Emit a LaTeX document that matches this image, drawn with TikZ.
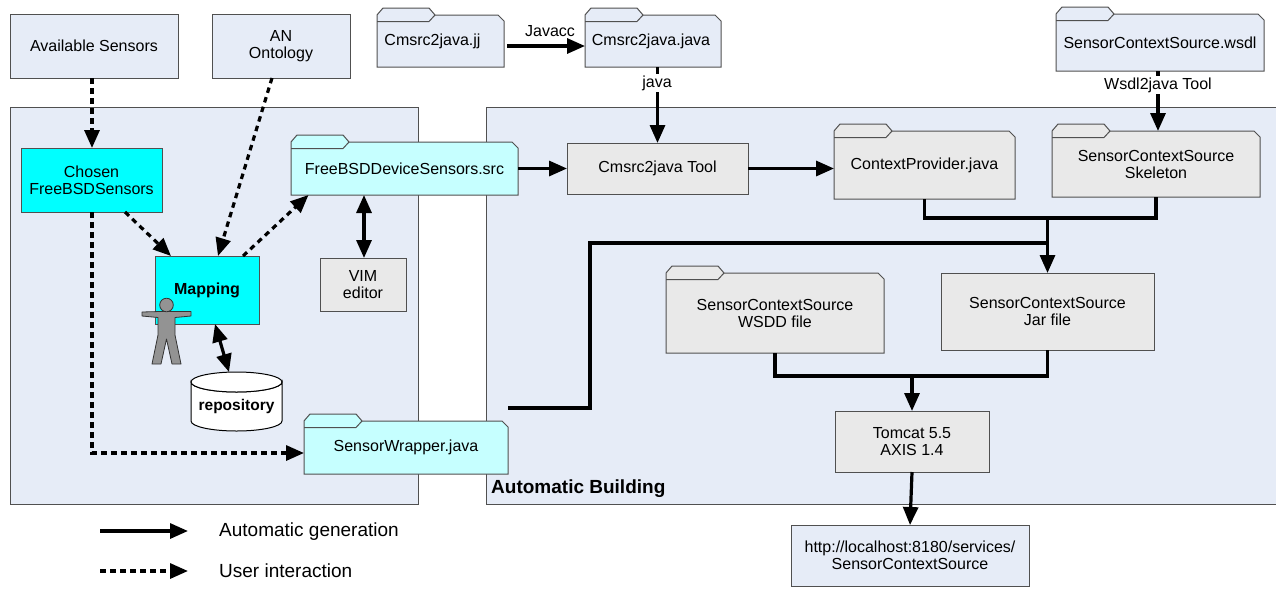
\documentclass[tikz,border=0pt]{standalone}
\usepackage{fontspec}
\setmainfont{Liberation Sans}
\usetikzlibrary{arrows.meta}
\definecolor{panel}{HTML}{E6ECF7}
\definecolor{brightcyan}{HTML}{00FFFF}
\definecolor{lcyan}{HTML}{C6FFFF}
\definecolor{lgray}{HTML}{E9E9E9}
\definecolor{edge}{HTML}{505050}
\tikzset{
  outline/.style={draw=edge,line width=1pt,line join=miter},
  boxn/.style={outline,rectangle,inner sep=0pt,outer sep=0pt,align=center,font=\fontsize{16}{17}\selectfont},
  foldertext/.style={rectangle,inner sep=0pt,outer sep=0pt,align=center,font=\fontsize{16}{17}\selectfont},
  solidarrow/.style={line width=3.2pt,-{Triangle[length=18pt,width=15pt]}},
  solidline/.style={line width=3.2pt,line join=miter},
  bothways/.style={line width=3.2pt,{Triangle[length=18pt,width=15pt]}-{Triangle[length=18pt,width=15pt]}},
  dashedarrow/.style={line width=3.2pt,dash pattern=on 5.5pt off 4.5pt,-{Triangle[length=18pt,width=15pt]}},
  edgelabel/.style={font=\fontsize{16}{17}\selectfont,inner sep=1.5pt},
  legendtext/.style={anchor=west,inner sep=0pt,font=\fontsize{19}{20}\selectfont}
}
\newcommand{\rectnode}[6]{% name x1 y1 x2 y2 style+text in #6
  \node[boxn,minimum width={(#4-#2)*1pt},minimum height={(#5-#3)*1pt}] (#1) at ({(#2+#4)/2},{(#3+#5)/2}) #6;}
\newcommand{\folder}[7]{% name x1 y1(body top) x2 y2 fill text
  \draw[outline,fill=#6] (#2,{#3+6}) -- (#2,#3) -- ({#2+6},{#3-7}) -- ({#2+52},{#3-7}) -- ({#2+58},#3)
     -- ({#4-6},#3) -- (#4,{#3+6}) -- (#4,#5) -- (#2,#5) -- cycle;
  \draw[outline] (#2,{#3+6.5}) -- ({#2+52},{#3+6.5}) -- ({#2+58},#3);
  \node[foldertext,minimum width={(#4-#2)*1pt},minimum height={(#5-#3)*1pt}] (#1) at ({(#2+#4)/2},{(#3+#5)/2}) {#7};}
\begin{document}
\begin{tikzpicture}[x=1pt,y=-1pt]
\useasboundingbox (0,0) rectangle (1276,590);
% panels
\fill[panel,draw=edge,line width=1pt] (10,107) rectangle (418,504);
\fill[panel] (486,107) rectangle (1276,504);
\draw[edge,line width=1pt] (1276,107) -- (486,107) -- (486,504) -- (1276,504);
\node[anchor=west,inner sep=0pt,font=\fontsize{19}{20}\selectfont\bfseries] (autob) at (491,489) {Automatic Building};
% boxes
\rectnode{avail}{10}{14}{178}{78}{[fill=panel] {Available Sensors}}
\rectnode{onto}{212}{14}{350}{78}{[fill=panel] {AN\\Ontology}}
\rectnode{chosen}{21}{148}{162}{212}{[fill=brightcyan] {Chosen\\FreeBSDSensors}}
\rectnode{map}{155}{256}{259}{324}{[fill=brightcyan] {\bfseries Mapping}}
\rectnode{vim}{320}{258}{406}{311}{[fill=lgray] {VIM\\editor}}
\rectnode{tool}{567}{143}{748}{194}{[fill=lgray] {Cmsrc2java Tool}}
\rectnode{jar}{941}{273}{1154}{350}{[fill=lgray] {SensorContextSource\\Jar file}}
\rectnode{tomcat}{835}{411}{989}{472}{[fill=lgray] {Tomcat 5.5\\AXIS 1.4}}
\rectnode{url}{791}{525}{1029}{586}{[fill=panel] {http://localhost:8180/services/\\SensorContextSource}}
% folders
\folder{jj}{377}{15}{504}{67}{panel}{\mbox{Cmsrc2java.jj\hspace{16pt}}}
\folder{cj}{585}{15}{721}{67}{panel}{\mbox{Cmsrc2java.java\hspace{4pt}}}
\folder{wsdl}{1056}{14}{1264}{71}{panel}{SensorContextSource.wsdl}
\folder{src}{291}{142}{518}{195}{lcyan}{FreeBSDDeviceSensors.src}
\folder{ctx}{834}{131}{1015}{199}{lgray}{ContextProvider.java}
\folder{skel}{1052}{131}{1260}{197}{lgray}{SensorContextSource\\Skeleton}
\folder{wsdd}{666}{273}{884}{353}{lgray}{SensorContextSource\\WSDD file}
\folder{wrap}{304}{421}{508}{474}{lcyan}{SensorWrapper.java}
% repository
\draw[draw=black,line width=1pt,fill=white] (191,382) arc[start angle=180,end angle=360,x radius=45.5,y radius=-10] -- (282,421)
  arc[start angle=0,end angle=180,x radius=45.5,y radius=10] -- cycle;
\draw[draw=black,line width=1pt,fill=white] (236.5,382) ellipse[x radius=45.5,y radius=10];
\node[rectangle,inner sep=0pt,outer sep=0pt,minimum width=91pt,minimum height=59pt,
  font=\fontsize{15.5}{17}\selectfont\bfseries] (repo) at (236.5,401.5) {\raisebox{-8.5pt}[0pt][0pt]{repository}};
% connectors
\coordinate (wrapout) at (508,408);
\coordinate (jog) at (590,243);
\coordinate (legA1) at (100,531);
\coordinate (legA2) at (188,531);
\coordinate (legB1) at (100,571);
\coordinate (legB2) at (188,571);
\draw[solidarrow] ([xshift=3pt,yshift=-5pt]jj.east) -- ([yshift=-5pt]cj.west);
\draw[solidarrow] ([xshift=4.5pt]cj.south) -- (tool.north);
\draw[solidarrow] ([xshift=-2pt]wsdl.south) -- ([xshift=2pt]skel.north);
\draw[solidarrow] (src.east) -- (tool.west);
\draw[solidarrow] (tool.east) -- ([yshift=-3.5pt]ctx.west);
\draw[solidline] (ctx.south) -- ++(0,19) -| (skel.south);
\draw[solidarrow] ([yshift=55pt]jar.north) -- (jar.north);
\draw[solidline] (wrapout) -| (jog) -- (jog -| jar.north);
\draw[solidline] (wsdd.south) -- ++(0,23) -| (jar.south);
\draw[solidarrow] ([yshift=35pt]tomcat.north) -- (tomcat.north);
\draw[solidarrow] (tomcat.south) -- (url.north);
\draw[dashedarrow] ([xshift=-2pt]avail.south) -- ([xshift=0.5pt]chosen.north);
\draw[dashedarrow] ([xshift=-9pt]onto.south) -- ([xshift=11pt]map.north);
\draw[dashedarrow] ([xshift=33.5pt]chosen.south) -- ([xshift=-36pt]map.north);
\draw[dashedarrow] ([xshift=36pt]map.north) -- ([xshift=-96pt]src.south);
\draw[dashedarrow] ([xshift=0.5pt]chosen.south) |- (wrap.west |- 0,453);
\draw[bothways] ([xshift=-40.5pt]src.south) -- ([xshift=1pt]vim.north);
\draw[bothways] ([xshift=8pt]map.south) -- ([xshift=-7.5pt]repo.north);
% edge labels
\node[edgelabel] (javacc) at (550,31) {Javacc};
\node[edgelabel,fill=white] (javal) at (657,83) {java};
\node[edgelabel,fill=white] (wsdll) at (1158,85) {Wsdl2java Tool};
% person
\draw[fill=gray!85,draw=black!80,line width=0.8pt,line join=round]
  (142,312) -- (160,311.5) -- (174,311.5) -- (191,311.5) -- (191,316) -- (175,317.5) -- (175,335) -- (181,364) -- (172,364) -- (166.5,339) -- (161,364) -- (152,364) -- (158,335) -- (158,317.5) -- (142,316) -- cycle;
\draw[fill=gray!85,draw=black!80,line width=0.8pt] (166.5,305) circle (6.8);
% legend
\draw[solidarrow] (legA1) -- (legA2);
\draw[dashedarrow] (legB1) -- (legB2);
\node[legendtext] (legT1) at (219,531.5) {Automatic generation};
\node[legendtext] (legT2) at (219,571) {User interaction};
\end{tikzpicture}
\end{document}
